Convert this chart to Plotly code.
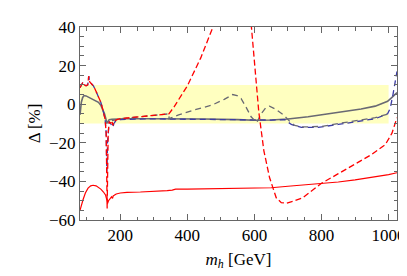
import plotly.graph_objects as go

# ---- data ----
red_solid_x = [80, 84, 89, 96, 104, 112, 119, 128, 135, 142, 150, 156, 160, 162, 165, 170, 174, 177, 179, 182,
               188, 200, 220, 260, 300, 340, 355, 365, 400, 500, 600, 650, 700, 750, 800, 850, 900, 950, 1000, 1025]
red_solid_y = [-55, -52, -49.5, -46, -43.5, -42.3, -42, -42.3, -43, -44, -45.5, -47, -49.5, -51.5, -50, -48.5,
               -48, -48.8, -47.5, -47.2, -46.5, -46, -45.7, -45.5, -45.3, -44.8, -44.5, -44, -44, -43.8, -43.5,
               -43.3, -42.5, -41.8, -41, -40.3, -39.2, -38, -36.5, -35.5]

red_dash_x = [80, 84, 89, 93, 98, 103, 106, 109, 114, 120, 127, 135, 142, 147, 151, 155, 158, 160, 161, 162, 164,
              167, 171, 175, 178, 181, 185, 190, 200, 230, 260, 300, 345, 360, 380, 400, 440, 482, 571, 590, 613,
              628, 645, 665, 680, 695, 720, 744, 770, 800, 850, 900, 950, 990, 1010, 1025]
red_dash_y = [8.5, 10, 11.5, 10, 9.5, 10, 14.5, 11.5, 10.5, 9.5, 7, 4, 1, -2, -5, -8, -15, -40, -54, -40, -15,
              -9, -10, -8.5, -11, -9, -8.5, -8, -7.5, -7, -6.5, -6, -5, -1.5, 4, 9.5, 24, 42.5, 74, 42, -4,
              -24, -38, -48.5, -51, -51.3, -50, -48.5, -45, -41, -36, -31, -26, -21, -15, -7]

blue_dash_x = [80, 84, 89, 93, 98, 103, 106, 109, 114, 120, 127, 135, 142, 147, 151, 155, 158, 160, 161, 162, 164,
               167, 171, 175, 178, 181, 185, 190, 200, 250, 300, 400, 500, 600, 650, 690, 710, 740, 790, 850, 910,
               960, 997, 1005, 1013, 1025]
blue_dash_y = [8.5, 10, 11.5, 10, 9.5, 10, 14.5, 11.5, 10.5, 9.5, 7, 4, 1, -2, -5, -8, -15, -35, -30, -20, -12,
               -9, -10, -11, -12, -10, -9, -8.5, -8, -7.7, -7.6, -7.8, -8, -8.3, -8.2, -8, -10.5, -12, -12,
               -10.5, -9, -7.5, -5, -2, 5, 17]

gray_solid_x = [80, 84, 88, 92, 98, 107, 118, 127, 135, 142, 148, 153, 157, 160, 163, 167, 175, 190, 220, 280,
                350, 450, 550, 600, 650, 700, 760, 820, 860, 918, 960, 997, 1010, 1025]
gray_solid_y = [-5.5, 1, 3.5, 4.5, 4.3, 3.5, 2.8, 2, 1, -0.5, -2.5, -5, -7.5, -10, -9, -8, -7.8, -7.6, -7.5, -7.5,
                -7.5, -7.7, -8, -8.3, -8.2, -7.7, -6.5, -5, -4, -2.5, -1, 1.5, 3.5, 6]

gray_dash_x = [175, 190, 200, 230, 260, 300, 345, 345.5, 374, 420, 473, 510, 535, 548, 560, 575, 590, 607, 620,
               633, 645, 662, 686, 706, 720, 740, 800, 850, 910, 960, 1000]
gray_dash_y = [-8.5, -8, -7.5, -7, -6.5, -6, -5, -7.5, -5.5, -3, -0.5, 2.5, 5, 4.5, 3, -1.5, -6.5, -9.5, -5,
               -2, -1, -2.5, -5.5, -9, -11, -11.8, -11.5, -10, -8.5, -7, -5]

band_x = [80, 1000]
band_y = [-10, 10]

x_ticks = [200, 400, 600, 800, 1000]
y_ticks = [-60, -40, -20, 0, 20, 40]

RED = "rgb(255,0,0)"
BLUE = "rgb(60,60,165)"
GRAY = "rgb(105,105,115)"

fig = go.Figure()
fig.add_shape(type="rect", xref="x", yref="y", x0=band_x[0], x1=band_x[1], y0=band_y[0], y1=band_y[1],
              fillcolor="rgb(255,255,192)", line_width=0, layer="below")

fig.add_trace(go.Scatter(x=gray_solid_x, y=gray_solid_y, mode="lines",
                         line=dict(color=GRAY, width=1.6)))
fig.add_trace(go.Scatter(x=blue_dash_x, y=blue_dash_y, mode="lines",
                         line=dict(color=BLUE, width=1.3, dash="6px,4px")))
fig.add_trace(go.Scatter(x=gray_dash_x, y=gray_dash_y, mode="lines",
                         line=dict(color=GRAY, width=1.3, dash="6px,4px")))
fig.add_trace(go.Scatter(x=red_dash_x, y=red_dash_y, mode="lines",
                         line=dict(color=RED, width=1.3, dash="6px,3px")))
fig.add_trace(go.Scatter(x=red_solid_x, y=red_solid_y, mode="lines",
                         line=dict(color=RED, width=1.2)))

font = dict(family="Liberation Serif", size=17, color="black")

fig.update_layout(
    width=407, height=276,
    margin=dict(l=72, r=10, t=11, b=64),
    paper_bgcolor="white", plot_bgcolor="white",
    showlegend=False,
    font=font,
    xaxis=dict(range=[80, 1025], tickvals=x_ticks, ticks="inside", ticklen=6, tickcolor="#666",
               showline=True, linecolor="#666", linewidth=1, mirror="ticks", showgrid=False, zeroline=False,
               minor=dict(dtick=50, tick0=0, ticks="inside", ticklen=3.5, tickcolor="#666", showgrid=False),
               title=dict(text="<i>m</i><sub><i>h</i></sub> [GeV]", standoff=8, font=font),
               tickfont=font),
    yaxis=dict(range=[-60, 40], tickvals=y_ticks, ticks="inside", ticklen=6, tickcolor="#666",
               showline=True, linecolor="#666", linewidth=1, mirror="ticks", showgrid=False, zeroline=False,
               minor=dict(dtick=5, tick0=0, ticks="inside", ticklen=3.5, tickcolor="#666", showgrid=False),
               title=dict(text="Δ [%]", standoff=4, font=font),
               tickfont=font),
)

fig.write_html("out.html")
